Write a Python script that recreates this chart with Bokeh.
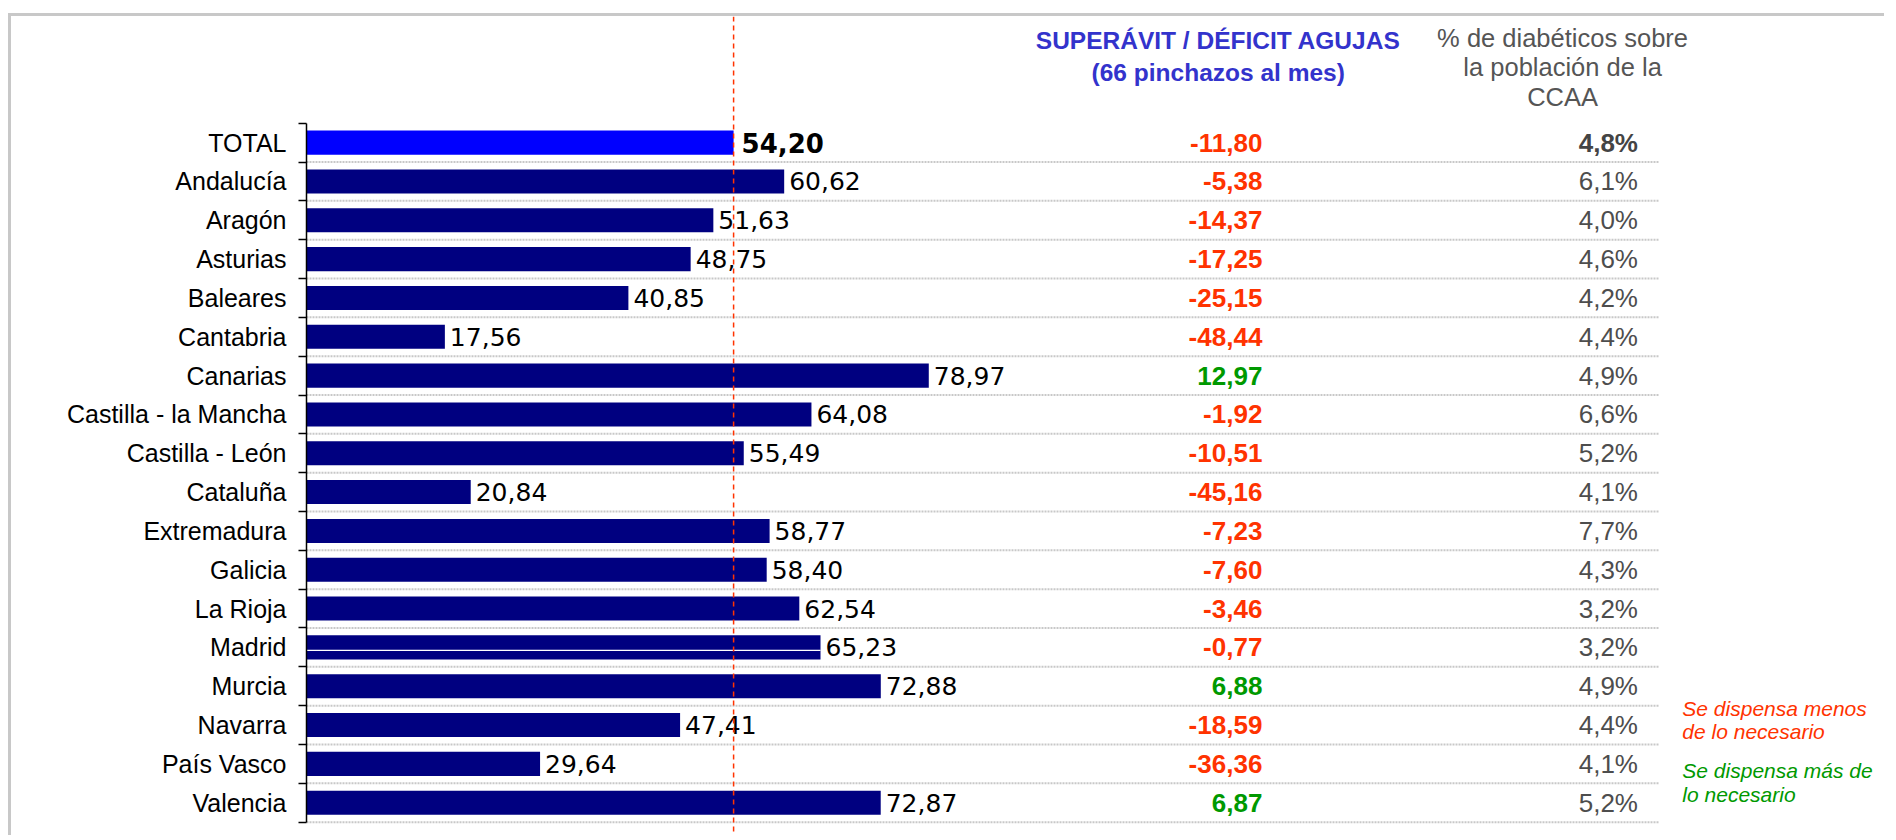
from bokeh.plotting import figure
from bokeh.models import Range1d, FixedTicker, Span
from bokeh.core.properties import value
from bokeh.embed import file_html
from bokeh.resources import INLINE

# ---------------- data ----------------
regions = ["TOTAL", "Andalucía", "Aragón", "Asturias", "Baleares", "Cantabria",
           "Canarias", "Castilla - la Mancha", "Castilla - León", "Cataluña",
           "Extremadura", "Galicia", "La Rioja", "Madrid", "Murcia", "Navarra",
           "País Vasco", "Valencia"]
needles = [54.20, 60.62, 51.63, 48.75, 40.85, 17.56, 78.97, 64.08, 55.49, 20.84,
           58.77, 58.40, 62.54, 65.23, 72.88, 47.41, 29.64, 72.87]
balance = [-11.80, -5.38, -14.37, -17.25, -25.15, -48.44, 12.97, -1.92, -10.51,
           -45.16, -7.23, -7.60, -3.46, -0.77, 6.88, -18.59, -36.36, 6.87]
diabetic_pct = [4.8, 6.1, 4.0, 4.6, 4.2, 4.4, 4.9, 6.6, 5.2, 4.1, 7.7, 4.3, 3.2,
                3.2, 4.9, 4.4, 4.1, 5.2]
reference_value = 54.20

header_balance = ["SUPERÁVIT / DÉFICIT AGUJAS", "(66 pinchazos al mes)"]
header_pct = ["% de diabéticos sobre", "la población de la", "CCAA"]
note_less = ["Se dispensa menos", "de lo necesario"]
note_more = ["Se dispensa más de", "lo necesario"]

# ---------------- layout helpers ----------------
N = len(regions)
W, H = 1876, 822
LEFT = 295
PX_PER_UNIT = 7.88
ROW_PX = 38.83
TOP_BOUND_PAGE = 122.7      # page y of the top row boundary
CANVAS_TOP_PAGE = 16        # page y of the canvas top
BOTTOM_BOUND_CANVAS = TOP_BOUND_PAGE - CANVAS_TOP_PAGE + N * ROW_PX

def row_y(page_y):
    return N + (TOP_BOUND_PAGE - page_y) / ROW_PX

def fmt(v, d=2):
    return f"{v:.{d}f}".replace(".", ",")

centers = [N - i - 0.5 for i in range(N)]
boundaries = list(range(N + 1))

RED = "#FF3300"
GREEN = "#009900"

p = figure(width=W, height=H, output_backend="svg", toolbar_location=None,
           x_axis_location=None,
           x_range=Range1d(0, (W - LEFT) / PX_PER_UNIT),
           y_range=Range1d(-(H - BOTTOM_BOUND_CANVAS) / ROW_PX,
                           row_y(CANVAS_TOP_PAGE)),
           min_border_left=LEFT, min_border_right=0, min_border_top=0,
           min_border_bottom=0)
p.styles = {"border-top": "3px solid #c8c8c8", "border-left": "3px solid #c8c8c8",
            "margin-top": "13px", "margin-left": "8px"}
p.outline_line_color = None
p.xgrid.visible = False
p.ygrid.visible = False
p.background_fill_color = "white"
p.border_fill_color = "white"

# y axis with labels at row centres and ticks at row boundaries
ax = p.yaxis[0]
ax.ticker = FixedTicker(ticks=centers, minor_ticks=boundaries)
ax.major_label_overrides = {c: r for c, r in zip(centers, regions)}
ax.major_tick_out = 0
ax.major_tick_in = 0
ax.minor_tick_out = 8
ax.minor_tick_in = 0
ax.minor_tick_line_color = "black"
ax.minor_tick_line_width = 1.5
ax.axis_line_color = "black"
ax.axis_line_width = 1.5
ax.bounds = (0, N)
ax.major_label_standoff = 12
ax.major_label_text_font = "Liberation Sans"
ax.major_label_text_font_size = "25px"
ax.major_label_text_color = "black"

# dotted separators
sep_end = 171.7
p.segment(x0=[0] * N, x1=[sep_end] * N, y0=boundaries[:-1], y1=boundaries[:-1],
          line_color="#c8c8c8", line_width=2, line_dash="2 1")

# bars
bar_colors = ["#0000FF"] + ["#000080"] * (N - 1)
p.hbar(y=centers, left=0, right=needles, height=0.62, fill_color=bar_colors,
       line_color=None)

# Madrid white streak
mi = regions.index("Madrid")
p.segment(x0=[0], x1=[needles[mi]], y0=[centers[mi] - 0.077], y1=[centers[mi] - 0.077],
          line_color="white", line_width=1.3)

# bar value labels
p.text(x=needles[1:], y=centers[1:], text=[fmt(v) for v in needles[1:]],
       x_offset=5, text_baseline="middle", text_align="left",
       text_font=value("DejaVu Sans"), text_font_size=value("25px"),
       text_color="black")
p.text(x=needles[:1], y=centers[:1], text=[fmt(needles[0])],
       x_offset=8, text_baseline="middle", text_align="left",
       text_font=value("DejaVu Sans"), text_font_style="bold",
       text_font_size=value("26px"), text_color="black")

# balance column
bal_x = 121.3
p.text(x=[bal_x] * N, y=centers, text=[fmt(v) for v in balance],
       text_color=[RED if v < 0 else GREEN for v in balance],
       text_baseline="middle", text_align="right",
       text_font=value("Liberation Sans"), text_font_style="bold",
       text_font_size=value("26px"))

# percentage column
pct_x = 168.97
p.text(x=[pct_x], y=centers[:1], text=[fmt(diabetic_pct[0], 1) + "%"],
       text_color="#444444", text_baseline="middle", text_align="right",
       text_font=value("Liberation Sans"), text_font_style="bold",
       text_font_size=value("26px"))
p.text(x=[pct_x] * (N - 1), y=centers[1:],
       text=[fmt(v, 1) + "%" for v in diabetic_pct[1:]],
       text_color="#4d4d4d", text_baseline="middle", text_align="right",
       text_font=value("Liberation Sans"), text_font_size=value("26px"))

# headers
p.text(x=[115.7] * 2, y=[row_y(40), row_y(72)], text=header_balance,
       text_color="#3333CC", text_baseline="middle", text_align="center",
       text_font=value("Liberation Sans"), text_font_style="bold",
       text_font_size=value("24.5px"))
p.text(x=[159.4] * 3, y=[row_y(37), row_y(66.5), row_y(96.5)], text=header_pct,
       text_color="#555555", text_baseline="middle", text_align="center",
       text_font=value("Liberation Sans"), text_font_size=value("25.5px"))

# notes
p.text(x=[174.6] * 2, y=[row_y(708), row_y(731)], text=note_less,
       text_color=RED, text_baseline="middle", text_align="left",
       text_font=value("Liberation Sans"), text_font_style="italic",
       text_font_size=value("21px"))
p.text(x=[174.6] * 2, y=[row_y(770), row_y(794)], text=note_more,
       text_color=GREEN, text_baseline="middle", text_align="left",
       text_font=value("Liberation Sans"), text_font_style="italic",
       text_font_size=value("21px"))

# reference dashed line
p.add_layout(Span(location=reference_value, dimension="height", line_color=RED,
                  line_width=1.5, line_dash="5 4"))

open("out.html", "w").write(file_html(p, INLINE))
